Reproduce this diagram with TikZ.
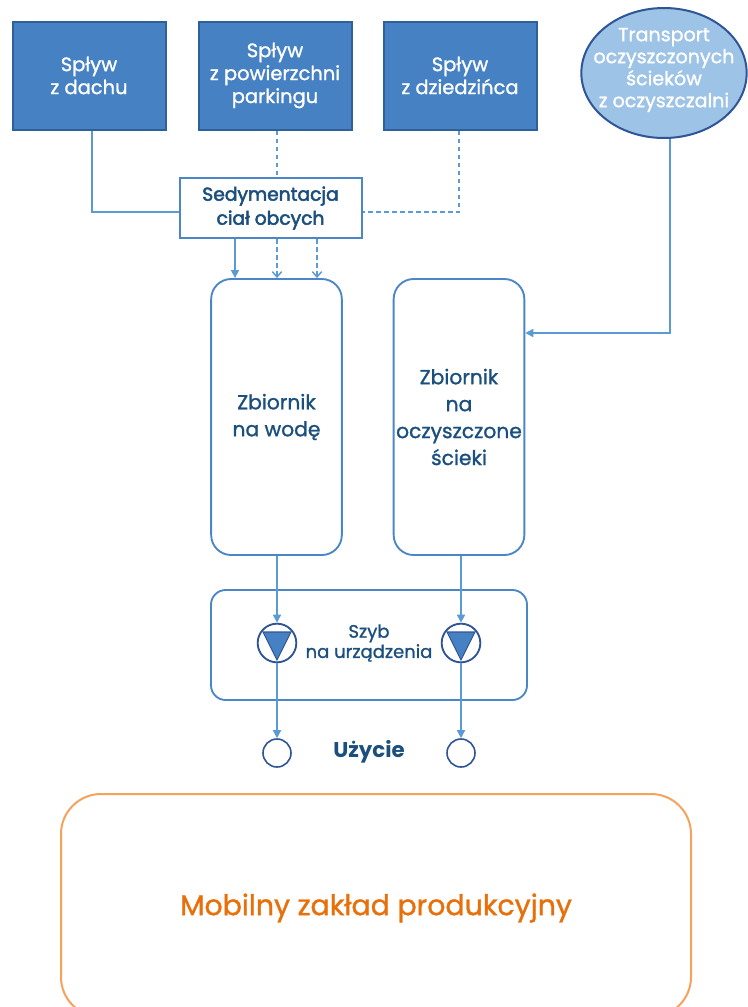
\documentclass[tikz,border=0pt]{standalone}
\usepackage{fontspec}
\setmainfont{Poppins}
\newfontfamily\medf{Poppins}[FakeBold=1.2]
\newfontfamily\semf{Poppins}[FakeBold=2.6]
\usetikzlibrary{arrows.meta,shapes.geometric}
\definecolor{boxfill}{HTML}{4581C3}
\definecolor{boxline}{HTML}{2E6099}
\definecolor{ellfill}{HTML}{9DC3E6}
\definecolor{ellline}{HTML}{2F5597}
\definecolor{conn}{HTML}{5B9BD5}
\definecolor{frame}{HTML}{4A86C8}
\definecolor{dtext}{HTML}{1B4F7E}
\definecolor{orline}{HTML}{F5A25D}
\definecolor{ortext}{HTML}{E8700A}
\begin{document}
\begin{tikzpicture}[x=0.75pt,y=-0.75pt,
  srcbox/.style={draw=boxline,line width=1.5pt,fill=boxfill,text=white,minimum width=114.75pt,minimum height=81pt,inner sep=0pt,align=center,font=\medf\fontsize{14.6}{17.2}\selectfont},
  tank/.style={draw=frame,line width=1.4pt,rounded corners=15pt,minimum width=98pt,minimum height=207pt,inner sep=0pt,align=center,text=dtext,font=\medf\fontsize{15.2}{20.2}\selectfont},
  conline/.style={draw=conn,line width=1.1pt},
  solidarrow/.style={conline,-{Triangle[length=6pt,width=6pt]}},
  dashline/.style={conline,dash pattern=on 3.5pt off 2.5pt},
  dasharrow/.style={dashline,-{Straight Barb[length=4pt,width=7pt]}},
  pump/.style={circle,draw=ellline,line width=1.4pt,minimum size=29pt,inner sep=0pt},
  usecirc/.style={circle,draw=ellline,line width=1.2pt,minimum size=21pt,inner sep=0pt}]
\useasboundingbox (0,0) rectangle (747,1007);
% source boxes
\node[srcbox] (b1) at (89,75.5) {Spływ\\z dachu};
\node[srcbox] (b2) at (275,75.5) {Spływ\\z powierzchni\\parkingu};
\node[srcbox] (b3) at (460,75.5) {Spływ\\z dziedzińca};
\node[ellipse,draw=ellline,line width=1.5pt,fill=ellfill,minimum width=124pt,minimum height=97.5pt,inner sep=0pt] (el) at (664,73) {};
\node[text=white,align=center,font=\medf\fontsize{14.3}{16.5}\selectfont,inner sep=0pt] (elt) at (664,70) {Transport\\oczyszczonych\\ścieków\\z oczyszczalni};
% sedimentation
\node[draw=frame,line width=1.5pt,fill=white,minimum width=136.5pt,minimum height=45pt,inner sep=0pt,align=center,text=dtext,font=\semf\fontsize{14}{18}\selectfont] (sed) at (270.5,208) {Sedymentacja\\ciał obcych};
% tanks
\node[tank] (t1) at (276.5,417) {Zbiornik\\na wodę};
\node[tank] (t2) at (459,417) {Zbiornik\\na\\oczyszczone\\ścieki};
% shaft
\node[draw=frame,line width=1.4pt,rounded corners=11pt,minimum width=237pt,minimum height=82.5pt,inner sep=0pt] (sh) at (369,645) {};
\node[text=dtext,align=center,font=\medf\fontsize{13.5}{15.2}\selectfont] (shl) at (369,643) {Szyb\\na urządzenia};
\node[pump] (p1) at (277,643) {};
\node[pump] (p2) at (461,643) {};
\fill[boxfill,draw=ellline,line width=0.8pt] (263,632) -- (291,632) -- (277,660) -- cycle;
\fill[boxfill,draw=ellline,line width=0.8pt] (447,632) -- (475,632) -- (461,660) -- cycle;
% use
\node[usecirc] (u1) at (277,753) {};
\node[usecirc] (u2) at (461,753) {};
\node[text=dtext,font=\bfseries\fontsize{16}{19}\selectfont] (use) at (369,752) {Użycie};
% factory
\draw[orline,line width=1.5pt,rounded corners=30pt] (61,1017) rectangle (691,794);
\node[text=ortext,font=\medf\fontsize{21.3}{25}\selectfont] (fac) at (376,908) {Mobilny zakład produkcyjny};
% connectors
\draw[conline] (b1.south -| 92,0) |- (sed.west |- 0,212);
\draw[dashline] (b2.south -| 277,0) -- (sed.north -| 277,0);
\draw[dashline] (b3.south -| 459,0) |- (sed.east |- 0,212);
\draw[solidarrow] (sed.south -| 235,0) -- (t1.north -| 235,0);
\draw[dasharrow] (sed.south -| 277,0) -- (t1.north -| 277,0);
\draw[dasharrow] (sed.south -| 317,0) -- (t1.north -| 317,0);
\draw[solidarrow] (el.south -| 670,0) |- (t2.east |- 0,333);
\draw[solidarrow] (t1.south -| p1) -- (p1.north);
\draw[solidarrow] (t2.south -| p2) -- (p2.north);
\draw[solidarrow] (p1.south) -- (u1.north);
\draw[solidarrow] (p2.south) -- (u2.north);
\end{tikzpicture}
\end{document}
